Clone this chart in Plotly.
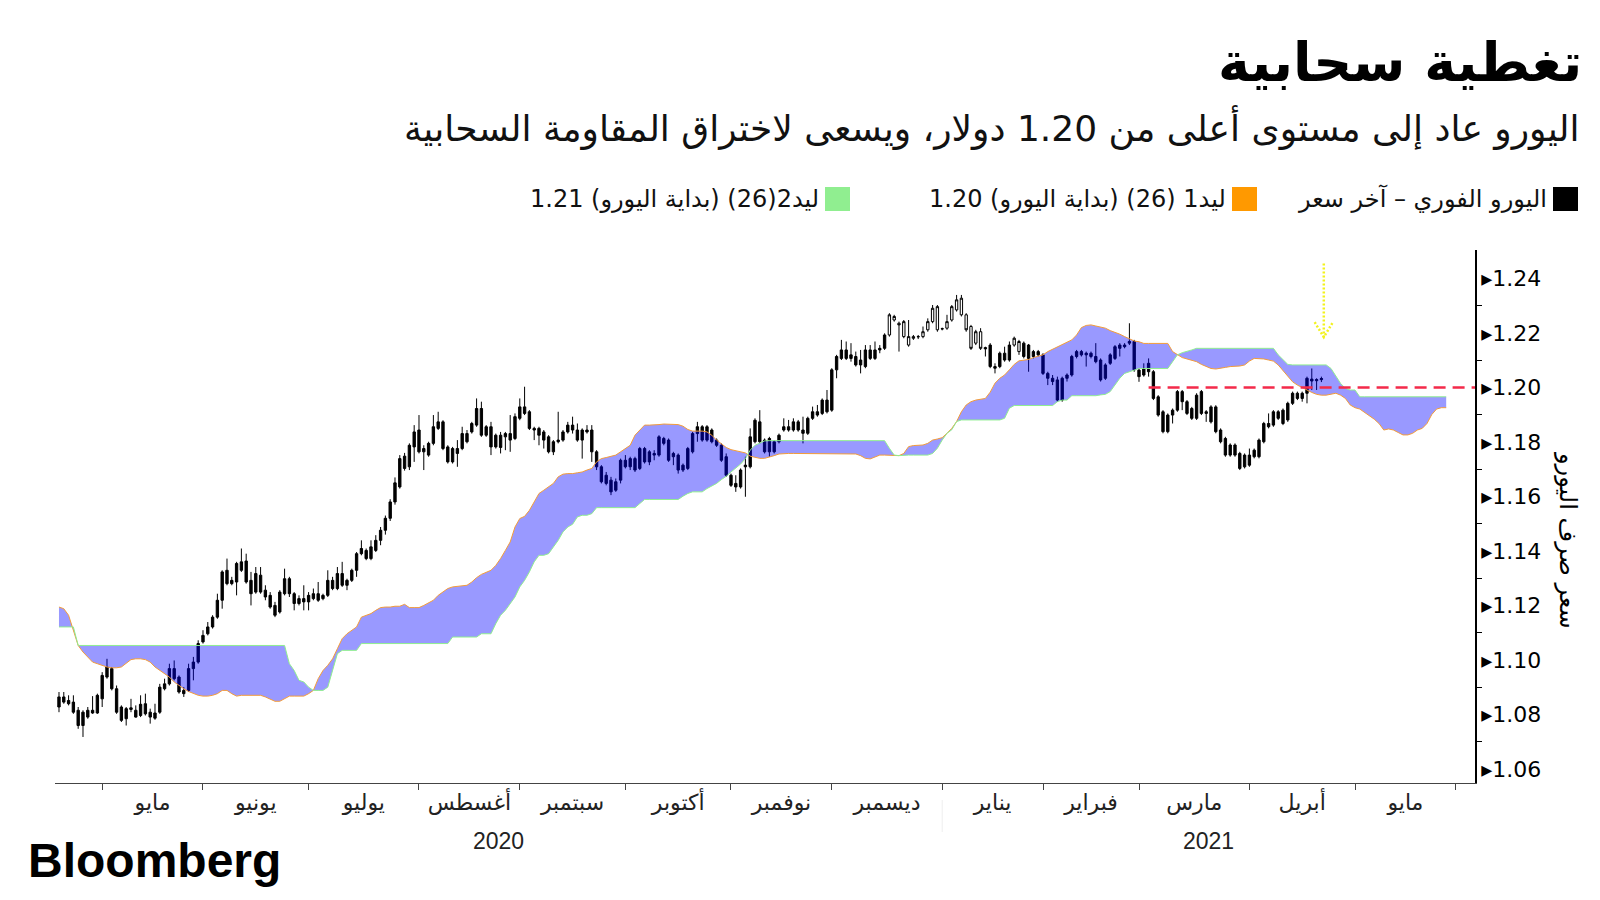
import math
import pandas as pd
import plotly.graph_objects as go

# EUR/USD daily candles, first candle on 20 Apr 2020 (one value per weekday)
OPEN = [
    1.0864, 1.0845, 1.0851, 1.0845, 1.0815, 1.0759, 1.0790, 1.0805, 1.0805, 1.0857,
    1.0937, 1.0968, 1.0894, 1.0827, 1.0784, 1.0818, 1.0815, 1.0796, 1.0839, 1.0808,
    1.0786, 1.0808, 1.0894, 1.0912, 1.0968, 1.0937, 1.0888, 1.0888, 1.0968, 1.0992,
    1.1066, 1.1096, 1.1121, 1.1157, 1.1219, 1.1329, 1.1280, 1.1286, 1.1329, 1.1363,
    1.1292, 1.1249, 1.1311, 1.1256, 1.1237, 1.1200, 1.1176, 1.1243, 1.1298, 1.1243,
    1.1207, 1.1225, 1.1213, 1.1225, 1.1243, 1.1225, 1.1237, 1.1292, 1.1262, 1.1317,
    1.1274, 1.1292, 1.1329, 1.1390, 1.1402, 1.1372, 1.1402, 1.1439, 1.1476, 1.1520,
    1.1580, 1.1635, 1.1703, 1.1709, 1.1782, 1.1844, 1.1764, 1.1752, 1.1795, 1.1850,
    1.1874, 1.1782, 1.1727, 1.1776, 1.1776, 1.1831, 1.1837, 1.1862, 1.1923, 1.1825,
    1.1856, 1.1782, 1.1825, 1.1819, 1.1807, 1.1813, 1.1887, 1.1929, 1.1911, 1.1850,
    1.1850, 1.1837, 1.1819, 1.1764, 1.1801, 1.1807, 1.1837, 1.1862, 1.1844, 1.1807,
    1.1844, 1.1844, 1.1764, 1.1709, 1.1678, 1.1660, 1.1623, 1.1660, 1.1733, 1.1709,
    1.1739, 1.1703, 1.1776, 1.1727, 1.1752, 1.1752, 1.1813, 1.1807, 1.1746, 1.1752,
    1.1697, 1.1703, 1.1764, 1.1831, 1.1856, 1.1807, 1.1844, 1.1807, 1.1788, 1.1746,
    1.1678, 1.1648, 1.1635, 1.1709, 1.1709, 1.1801, 1.1874, 1.1807, 1.1764, 1.1801,
    1.1801, 1.1844, 1.1856, 1.1844, 1.1874, 1.1844, 1.1832, 1.1887, 1.1911, 1.1905,
    1.1954, 1.1917, 1.2065, 1.2107, 1.2138, 1.2107, 1.2114, 1.2083, 1.2077, 1.2138,
    1.2107, 1.2138, 1.2144, 1.2193, 1.2248, 1.2236, 1.2187, 1.2156, 1.2187, 1.2186,
    1.2187, 1.2212, 1.2242, 1.2212, 1.2215, 1.2218, 1.2248, 1.2285, 1.2267, 1.2267,
    1.2224, 1.2163, 1.2205, 1.2147, 1.2156, 1.2077, 1.2077, 1.2126, 1.2101, 1.2156,
    1.2132, 1.2163, 1.2156, 1.2114, 1.2132, 1.2120, 1.2052, 1.2034, 1.2028, 1.1954,
    1.2034, 1.2046, 1.2114, 1.2132, 1.2120, 1.2126, 1.2114, 1.2101, 1.2034, 1.2089,
    1.2107, 1.2144, 1.2150, 1.2163, 1.2169, 1.2064, 1.2046, 1.2058, 1.2058, 1.1966,
    1.1911, 1.1838, 1.1899, 1.1917, 1.1985, 1.1948, 1.1923, 1.1887, 1.1985, 1.1905,
    1.1929, 1.1929, 1.1844, 1.1813, 1.1752, 1.1789, 1.1758, 1.1709, 1.1752, 1.1746,
    1.1746, 1.1801, 1.1868, 1.1862, 1.1911, 1.1868, 1.1881, 1.1942, 1.1979, 1.1960,
    1.1979, 1.2031, 1.2025, 1.2029,
]
HIGH = [
    1.0882, 1.0882, 1.0870, 1.0870, 1.0827, 1.0815, 1.0827, 1.0867, 1.0876, 1.0955,
    1.1004, 1.0974, 1.0906, 1.0833, 1.0827, 1.0857, 1.0833, 1.0870, 1.0876, 1.0821,
    1.0839, 1.0912, 1.0931, 1.0986, 1.0998, 1.0943, 1.0900, 1.0986, 1.1011, 1.1072,
    1.1109, 1.1139, 1.1164, 1.1243, 1.1329, 1.1372, 1.1305, 1.1360, 1.1409, 1.1390,
    1.1323, 1.1341, 1.1341, 1.1274, 1.1249, 1.1213, 1.1256, 1.1335, 1.1305, 1.1249,
    1.1237, 1.1274, 1.1249, 1.1262, 1.1286, 1.1243, 1.1329, 1.1305, 1.1341, 1.1360,
    1.1298, 1.1335, 1.1396, 1.1439, 1.1409, 1.1439, 1.1458, 1.1488, 1.1530, 1.1590,
    1.1670, 1.1752, 1.1760, 1.1795, 1.1862, 1.1899, 1.1788, 1.1801, 1.1899, 1.1911,
    1.1880, 1.1788, 1.1782, 1.1807, 1.1856, 1.1844, 1.1874, 1.1960, 1.1948, 1.1862,
    1.1874, 1.1831, 1.1837, 1.1837, 1.1899, 1.1905, 1.1960, 1.2003, 1.1917, 1.1856,
    1.1856, 1.1844, 1.1825, 1.1807, 1.1911, 1.1844, 1.1874, 1.1893, 1.1868, 1.1850,
    1.1862, 1.1862, 1.1770, 1.1715, 1.1690, 1.1672, 1.1666, 1.1739, 1.1752, 1.1746,
    1.1746, 1.1782, 1.1782, 1.1770, 1.1770, 1.1825, 1.1819, 1.1813, 1.1764, 1.1758,
    1.1721, 1.1782, 1.1837, 1.1874, 1.1862, 1.1862, 1.1850, 1.1813, 1.1795, 1.1758,
    1.1684, 1.1678, 1.1703, 1.1746, 1.1850, 1.1887, 1.1917, 1.1813, 1.1819, 1.1807,
    1.1831, 1.1887, 1.1881, 1.1887, 1.1881, 1.1893, 1.1893, 1.1930, 1.1936, 1.1960,
    1.1991, 1.2071, 1.2120, 1.2175, 1.2169, 1.2163, 1.2132, 1.2138, 1.2156, 1.2156,
    1.2169, 1.2156, 1.2199, 1.2273, 1.2267, 1.2242, 1.2248, 1.2248, 1.2193, 1.2193,
    1.2224, 1.2254, 1.2303, 1.2303, 1.2220, 1.2267, 1.2303, 1.2340, 1.2340, 1.2273,
    1.2230, 1.2212, 1.2218, 1.2150, 1.2163, 1.2089, 1.2132, 1.2150, 1.2169, 1.2187,
    1.2175, 1.2169, 1.2160, 1.2138, 1.2138, 1.2126, 1.2058, 1.2046, 1.2040, 1.2040,
    1.2052, 1.2120, 1.2138, 1.2138, 1.2132, 1.2132, 1.2163, 1.2107, 1.2089, 1.2126,
    1.2156, 1.2163, 1.2163, 1.2236, 1.2175, 1.2070, 1.2089, 1.2107, 1.2064, 1.1972,
    1.1917, 1.1905, 1.1923, 1.1991, 1.1991, 1.1954, 1.1929, 1.1979, 1.1991, 1.1917,
    1.1935, 1.1935, 1.1850, 1.1819, 1.1795, 1.1795, 1.1764, 1.1758, 1.1776, 1.1776,
    1.1813, 1.1874, 1.1905, 1.1917, 1.1917, 1.1923, 1.1948, 1.1985, 1.1985, 1.1985,
    1.2040, 1.2070, 1.2034, 1.2040,
]
LOW = [
    1.0808, 1.0839, 1.0833, 1.0802, 1.0747, 1.0717, 1.0784, 1.0802, 1.0802, 1.0827,
    1.0931, 1.0888, 1.0802, 1.0772, 1.0759, 1.0808, 1.0788, 1.0790, 1.0796, 1.0766,
    1.0780, 1.0802, 1.0888, 1.0906, 1.0925, 1.0876, 1.0864, 1.0882, 1.0925, 1.0986,
    1.1060, 1.1090, 1.1115, 1.1151, 1.1188, 1.1274, 1.1274, 1.1237, 1.1323, 1.1280,
    1.1200, 1.1243, 1.1243, 1.1219, 1.1188, 1.1157, 1.1170, 1.1237, 1.1231, 1.1182,
    1.1200, 1.1182, 1.1182, 1.1219, 1.1213, 1.1219, 1.1231, 1.1256, 1.1256, 1.1268,
    1.1256, 1.1286, 1.1305, 1.1384, 1.1366, 1.1366, 1.1396, 1.1421, 1.1460, 1.1510,
    1.1570, 1.1629, 1.1695, 1.1697, 1.1727, 1.1758, 1.1697, 1.1746, 1.1788, 1.1844,
    1.1770, 1.1721, 1.1721, 1.1709, 1.1770, 1.1795, 1.1831, 1.1856, 1.1819, 1.1819,
    1.1752, 1.1776, 1.1758, 1.1770, 1.1764, 1.1807, 1.1880, 1.1899, 1.1844, 1.1807,
    1.1788, 1.1776, 1.1758, 1.1752, 1.1795, 1.1801, 1.1831, 1.1831, 1.1801, 1.1739,
    1.1831, 1.1727, 1.1697, 1.1648, 1.1641, 1.1605, 1.1617, 1.1648, 1.1703, 1.1697,
    1.1690, 1.1697, 1.1721, 1.1715, 1.1733, 1.1746, 1.1788, 1.1727, 1.1715, 1.1684,
    1.1690, 1.1697, 1.1758, 1.1801, 1.1801, 1.1801, 1.1795, 1.1782, 1.1727, 1.1672,
    1.1635, 1.1617, 1.1629, 1.1599, 1.1703, 1.1795, 1.1795, 1.1758, 1.1746, 1.1758,
    1.1795, 1.1838, 1.1838, 1.1838, 1.1838, 1.1795, 1.1826, 1.1881, 1.1893, 1.1899,
    1.1905, 1.1911, 1.2034, 1.2101, 1.2101, 1.2095, 1.2077, 1.2052, 1.2071, 1.2101,
    1.2101, 1.2126, 1.2138, 1.2187, 1.2242, 1.2132, 1.2181, 1.2150, 1.2175, 1.2178,
    1.2181, 1.2205, 1.2236, 1.2205, 1.2210, 1.2212, 1.2242, 1.2279, 1.2261, 1.2205,
    1.2138, 1.2156, 1.2138, 1.2114, 1.2071, 1.2052, 1.2071, 1.2095, 1.2095, 1.2150,
    1.2120, 1.2107, 1.2058, 1.2107, 1.2114, 1.2046, 1.2009, 1.2009, 1.1948, 1.1948,
    1.2022, 1.2040, 1.2107, 1.2114, 1.2077, 1.2107, 1.2089, 1.2022, 1.2028, 1.2083,
    1.2101, 1.2114, 1.2144, 1.2156, 1.2058, 1.2021, 1.2040, 1.2040, 1.1954, 1.1893,
    1.1832, 1.1832, 1.1868, 1.1911, 1.1917, 1.1899, 1.1881, 1.1881, 1.1899, 1.1874,
    1.1868, 1.1832, 1.1795, 1.1746, 1.1746, 1.1746, 1.1697, 1.1703, 1.1709, 1.1740,
    1.1740, 1.1795, 1.1850, 1.1856, 1.1881, 1.1862, 1.1874, 1.1936, 1.1954, 1.1948,
    1.1942, 1.1991, 1.1991, 1.2020,
]
CLOSE = [
    1.0827, 1.0864, 1.0839, 1.0808, 1.0759, 1.0808, 1.0815, 1.0815, 1.0870, 1.0943,
    1.0974, 1.0894, 1.0808, 1.0778, 1.0821, 1.0824, 1.0790, 1.0837, 1.0802, 1.0790,
    1.0805, 1.0900, 1.0912, 1.0968, 1.0931, 1.0882, 1.0876, 1.0968, 1.0992, 1.1060,
    1.1090, 1.1121, 1.1157, 1.1219, 1.1323, 1.1280, 1.1292, 1.1354, 1.1360, 1.1286,
    1.1243, 1.1317, 1.1249, 1.1231, 1.1194, 1.1164, 1.1249, 1.1298, 1.1243, 1.1207,
    1.1225, 1.1213, 1.1237, 1.1243, 1.1219, 1.1237, 1.1292, 1.1262, 1.1317, 1.1274,
    1.1292, 1.1329, 1.1390, 1.1409, 1.1372, 1.1415, 1.1439, 1.1476, 1.1520, 1.1580,
    1.1650, 1.1739, 1.1748, 1.1788, 1.1837, 1.1764, 1.1776, 1.1795, 1.1856, 1.1874,
    1.1776, 1.1727, 1.1776, 1.1758, 1.1831, 1.1801, 1.1868, 1.1923, 1.1825, 1.1856,
    1.1782, 1.1825, 1.1780, 1.1831, 1.1831, 1.1893, 1.1929, 1.1905, 1.1850, 1.1844,
    1.1825, 1.1807, 1.1764, 1.1801, 1.1807, 1.1837, 1.1862, 1.1844, 1.1807, 1.1844,
    1.1837, 1.1764, 1.1709, 1.1654, 1.1648, 1.1617, 1.1654, 1.1733, 1.1709, 1.1739,
    1.1697, 1.1776, 1.1727, 1.1764, 1.1758, 1.1819, 1.1795, 1.1733, 1.1758, 1.1697,
    1.1715, 1.1776, 1.1831, 1.1856, 1.1807, 1.1856, 1.1801, 1.1788, 1.1733, 1.1678,
    1.1641, 1.1635, 1.1697, 1.1715, 1.1819, 1.1880, 1.1801, 1.1764, 1.1813, 1.1764,
    1.1825, 1.1856, 1.1844, 1.1874, 1.1844, 1.1832, 1.1887, 1.1911, 1.1899, 1.1954,
    1.1911, 1.2065, 1.2114, 1.2138, 1.2107, 1.2120, 1.2083, 1.2101, 1.2138, 1.2107,
    1.2138, 1.2144, 1.2193, 1.2267, 1.2261, 1.2230, 1.2242, 1.2187, 1.2181, 1.2187,
    1.2205, 1.2242, 1.2291, 1.2297, 1.2216, 1.2242, 1.2297, 1.2322, 1.2328, 1.2212,
    1.2144, 1.2205, 1.2144, 1.2142, 1.2077, 1.2071, 1.2126, 1.2101, 1.2156, 1.2181,
    1.2169, 1.2114, 1.2107, 1.2132, 1.2120, 1.2052, 1.2034, 1.2022, 1.1954, 1.2034,
    1.2046, 1.2114, 1.2132, 1.2120, 1.2126, 1.2114, 1.2095, 1.2028, 1.2083, 1.2120,
    1.2150, 1.2156, 1.2156, 1.2169, 1.2065, 1.2040, 1.2070, 1.2089, 1.1960, 1.1899,
    1.1838, 1.1899, 1.1917, 1.1985, 1.1948, 1.1905, 1.1887, 1.1972, 1.1905, 1.1911,
    1.1874, 1.1838, 1.1801, 1.1752, 1.1789, 1.1752, 1.1703, 1.1752, 1.1715, 1.1770,
    1.1807, 1.1868, 1.1856, 1.1911, 1.1887, 1.1917, 1.1942, 1.1979, 1.1960, 1.1979,
    1.2034, 1.2024, 1.2029, 1.2033,
]
# candles drawn hollow (late Dec 2020 / early Jan 2021)
HOLLOW = [173, 174, 175, 176, 177, 178, 179, 180, 181, 182, 183, 184, 185, 186,
          187, 188, 189, 190, 191, 192, 193, 199, 200]

# Ichimoku leading spans (shifted 26 days ahead)
LEAD1 = [
    1.1194, 1.1188, 1.1164, 1.1109, 1.1053, 1.1029, 1.1011, 1.0992, 1.0986, 1.0980,
    1.0974, 1.0971, 1.0971, 1.0974, 1.0986, 1.1001, 1.1004, 1.1004, 1.1001, 1.0992,
    1.0974, 1.0961, 1.0949, 1.0937, 1.0919, 1.0906, 1.0894, 1.0884, 1.0876, 1.0870,
    1.0867, 1.0867, 1.0870, 1.0876, 1.0888, 1.0888, 1.0876, 1.0867, 1.0870, 1.0870,
    1.0870, 1.0870, 1.0870, 1.0864, 1.0855, 1.0848, 1.0848, 1.0857, 1.0867, 1.0867,
    1.0867, 1.0867, 1.0876, 1.0888, 1.0931, 1.0961, 1.0980, 1.1004, 1.1041, 1.1078,
    1.1096, 1.1109, 1.1121, 1.1157, 1.1164, 1.1170, 1.1182, 1.1192, 1.1194, 1.1194,
    1.1197, 1.1197, 1.1204, 1.1192, 1.1192, 1.1192, 1.1200, 1.1209, 1.1219, 1.1237,
    1.1249, 1.1262, 1.1268, 1.1270, 1.1270, 1.1274, 1.1286, 1.1302, 1.1314, 1.1323,
    1.1329, 1.1347, 1.1372, 1.1402, 1.1433, 1.1488, 1.1519, 1.1527, 1.1549, 1.1580,
    1.1611, 1.1623, 1.1635, 1.1648, 1.1672, 1.1682, 1.1684, 1.1684, 1.1687, 1.1690,
    1.1697, 1.1703, 1.1727, 1.1739, 1.1743, 1.1748, 1.1752, 1.1764, 1.1776, 1.1788,
    1.1825, 1.1844, 1.1862, 1.1862, 1.1862, 1.1864, 1.1866, 1.1866, 1.1866, 1.1864,
    1.1858, 1.1846, 1.1840, 1.1840, 1.1840, 1.1837, 1.1825, 1.1807, 1.1792, 1.1780,
    1.1772, 1.1768, 1.1764, 1.1760, 1.1748, 1.1743, 1.1740, 1.1740, 1.1744, 1.1750,
    1.1756, 1.1758, 1.1758, 1.1758, 1.1758, 1.1758, 1.1758, 1.1758, 1.1758, 1.1758,
    1.1758, 1.1758, 1.1758, 1.1756, 1.1756, 1.1756, 1.1756, 1.1750, 1.1740, 1.1738,
    1.1746, 1.1752, 1.1752, 1.1752, 1.1752, 1.1750, 1.1758, 1.1783, 1.1787, 1.1789,
    1.1789, 1.1795, 1.1807, 1.1811, 1.1816, 1.1832, 1.1850, 1.1875, 1.1911, 1.1936,
    1.1948, 1.1954, 1.1958, 1.1960, 1.1983, 1.2016, 1.2034, 1.2046, 1.2065, 1.2085,
    1.2098, 1.2100, 1.2103, 1.2110, 1.2115, 1.2120, 1.2132, 1.2141, 1.2150, 1.2156,
    1.2166, 1.2175, 1.2193, 1.2220, 1.2228, 1.2230, 1.2226, 1.2223, 1.2218, 1.2209,
    1.2203, 1.2196, 1.2187, 1.2179, 1.2171, 1.2168, 1.2162, 1.2162, 1.2162, 1.2162,
    1.2162, 1.2162, 1.2132, 1.2120, 1.2110, 1.2105, 1.2101, 1.2095, 1.2085, 1.2077,
    1.2070, 1.2068, 1.2070, 1.2074, 1.2077, 1.2077, 1.2079, 1.2083, 1.2097, 1.2107,
    1.2107, 1.2105, 1.2101, 1.2097, 1.2083, 1.2061, 1.2040, 1.2021, 1.2009, 1.1999,
    1.1991, 1.1982, 1.1975, 1.1972, 1.1972, 1.1975, 1.1979, 1.1972, 1.1960, 1.1936,
    1.1926, 1.1921, 1.1909, 1.1899, 1.1884, 1.1868, 1.1844, 1.1848, 1.1844, 1.1835,
    1.1826, 1.1826, 1.1832, 1.1844, 1.1850, 1.1868, 1.1901, 1.1921, 1.1926, 1.1926,
]
LEAD2 = [
    1.1121, 1.1121, 1.1121, 1.1121, 1.1053, 1.1053, 1.1053, 1.1053, 1.1053, 1.1053,
    1.1053, 1.1053, 1.1053, 1.1053, 1.1053, 1.1053, 1.1053, 1.1053, 1.1053, 1.1053,
    1.1053, 1.1053, 1.1053, 1.1053, 1.1053, 1.1053, 1.1053, 1.1053, 1.1053, 1.1053,
    1.1053, 1.1053, 1.1053, 1.1053, 1.1053, 1.1053, 1.1053, 1.1053, 1.1053, 1.1053,
    1.1053, 1.1053, 1.1053, 1.1053, 1.1053, 1.1053, 1.1053, 1.1053, 1.0986, 1.0961,
    1.0925, 1.0919, 1.0900, 1.0888, 1.0888, 1.0888, 1.0900, 1.0961, 1.1023, 1.1035,
    1.1035, 1.1035, 1.1035, 1.1060, 1.1060, 1.1060, 1.1060, 1.1060, 1.1060, 1.1060,
    1.1060, 1.1060, 1.1060, 1.1060, 1.1060, 1.1060, 1.1060, 1.1060, 1.1060, 1.1060,
    1.1060, 1.1060, 1.1084, 1.1084, 1.1084, 1.1084, 1.1084, 1.1084, 1.1096, 1.1096,
    1.1096, 1.1133, 1.1164, 1.1182, 1.1207, 1.1231, 1.1268, 1.1292, 1.1323, 1.1360,
    1.1384, 1.1384, 1.1390, 1.1415, 1.1439, 1.1470, 1.1488, 1.1498, 1.1525, 1.1531,
    1.1531, 1.1537, 1.1559, 1.1559, 1.1559, 1.1559, 1.1559, 1.1559, 1.1559, 1.1559,
    1.1559, 1.1574, 1.1589, 1.1589, 1.1589, 1.1589, 1.1589, 1.1589, 1.1589, 1.1589,
    1.1601, 1.1611, 1.1617, 1.1617, 1.1617, 1.1629, 1.1638, 1.1648, 1.1662, 1.1674,
    1.1690, 1.1703, 1.1719, 1.1739, 1.1770, 1.1788, 1.1797, 1.1804, 1.1805, 1.1805,
    1.1805, 1.1805, 1.1805, 1.1805, 1.1805, 1.1805, 1.1805, 1.1805, 1.1805, 1.1805,
    1.1805, 1.1805, 1.1805, 1.1805, 1.1805, 1.1805, 1.1805, 1.1805, 1.1805, 1.1805,
    1.1805, 1.1805, 1.1805, 1.1777, 1.1752, 1.1750, 1.1752, 1.1752, 1.1752, 1.1752,
    1.1752, 1.1752, 1.1758, 1.1777, 1.1807, 1.1832, 1.1845, 1.1875, 1.1881, 1.1881,
    1.1881, 1.1881, 1.1881, 1.1881, 1.1881, 1.1881, 1.1881, 1.1887, 1.1924, 1.1934,
    1.1934, 1.1934, 1.1934, 1.1934, 1.1934, 1.1934, 1.1934, 1.1934, 1.1948, 1.1954,
    1.1954, 1.1970, 1.1970, 1.1970, 1.1970, 1.1970, 1.1970, 1.1973, 1.1975, 1.1985,
    1.2009, 1.2034, 1.2052, 1.2058, 1.2064, 1.2070, 1.2070, 1.2070, 1.2070, 1.2070,
    1.2070, 1.2070, 1.2095, 1.2120, 1.2128, 1.2132, 1.2138, 1.2144, 1.2144, 1.2144,
    1.2144, 1.2144, 1.2144, 1.2144, 1.2144, 1.2144, 1.2144, 1.2144, 1.2144, 1.2144,
    1.2144, 1.2144, 1.2144, 1.2144, 1.2120, 1.2101, 1.2085, 1.2083, 1.2083, 1.2083,
    1.2083, 1.2083, 1.2083, 1.2083, 1.2083, 1.2070, 1.2040, 1.2015, 1.1997, 1.1991,
    1.1991, 1.1966, 1.1966, 1.1966, 1.1966, 1.1966, 1.1966, 1.1966, 1.1966, 1.1966,
    1.1966, 1.1966, 1.1966, 1.1966, 1.1966, 1.1966, 1.1966, 1.1966, 1.1966, 1.1966,
]

LEVEL = 1.20          # resistance line
LEVEL_FROM = 227      # candle index where the dashed line starts
ARROW_AT = 263.5      # candle index of the yellow arrow
ARROW_TOP, ARROW_TIP = 1.2455, 1.2185

MONTHS = ["مايو", "يونيو", "يوليو", "أغسطس", "سبتمبر", "أكتوبر", "نوفمبر",
          "ديسمبر", "يناير", "فبراير", "مارس", "أبريل", "مايو"]
YEARS = ["2020", "2021"]
Y_TICKS = [1.06, 1.08, 1.10, 1.12, 1.14, 1.16, 1.18, 1.20, 1.22, 1.24]

TITLE = "تغطية سحابية"
SUBTITLE = "اليورو عاد إلى مستوى أعلى من 1.20 دولار، ويسعى لاختراق المقاومة السحابية"
LEGEND = [("اليورو الفوري – آخر سعر", "#000000"),
          ("ليد1 (26) (بداية اليورو) 1.20", "#FF9900"),
          ("ليد2(26) (بداية اليورو) 1.21", "#90EE90")]
Y_TITLE = "سعر صرف اليورو"

FONT = "DejaVu Sans"
W, H = 1600, 900
L, R, T, B = 55, 125, 250, 117
PW, PH = W - L - R, H - T - B


def fx(p):
    return (p - L) / PW


def fy(p):
    return (H - B - p) / PH


# weekday calendar; days[1] is the first candle
days = pd.bdate_range("2020-04-17", periods=300)


def at(f):
    k = math.floor(f)
    return days[k + 1] + pd.Timedelta(days=f - k)


n = len(CLOSE)
solid = [i for i in range(n) if i not in HOLLOW]


def pick(arr, idx):
    return [arr[i] for i in idx]


fig = go.Figure()

for idx, fill in ((solid, "black"), (HOLLOW, "white")):
    style = dict(line=dict(color="black", width=1), fillcolor=fill)
    fig.add_trace(go.Candlestick(
        x=[days[i + 1] for i in idx],
        open=pick(OPEN, idx), high=pick(HIGH, idx),
        low=pick(LOW, idx), close=pick(CLOSE, idx),
        increasing=style, decreasing=style, whiskerwidth=0,
        showlegend=False, hoverinfo="skip"))

cloud_x = [days[i + 1] for i in range(len(LEAD1))]
fig.add_trace(go.Scatter(x=cloud_x, y=LEAD1, mode="lines",
                         line=dict(color="#F39C3A", width=1),
                         showlegend=False, hoverinfo="skip"))
fig.add_trace(go.Scatter(x=cloud_x, y=LEAD2, mode="lines",
                         line=dict(color="#90EE90", width=1),
                         fill="tonexty", fillcolor="rgba(0,0,255,0.4)",
                         showlegend=False, hoverinfo="skip"))

x_end = 295
fig.add_trace(go.Scatter(x=[at(LEVEL_FROM), at(x_end)], y=[LEVEL, LEVEL],
                         mode="lines",
                         line=dict(color="#F42A4A", width=2.5, dash="12px,7px"),
                         showlegend=False, hoverinfo="skip"))

# yellow dotted arrow
yellow = dict(color="#F2F21C", width=2.5, dash="2px,2px")
fig.add_trace(go.Scatter(x=[at(ARROW_AT), at(ARROW_AT)], y=[ARROW_TOP, ARROW_TIP],
                         mode="lines", line=yellow, showlegend=False, hoverinfo="skip"))
fig.add_trace(go.Scatter(x=[at(ARROW_AT - 1.9), at(ARROW_AT), at(ARROW_AT + 1.9)],
                         y=[ARROW_TIP + 0.0055, ARROW_TIP, ARROW_TIP + 0.0055],
                         mode="lines", line=yellow, showlegend=False, hoverinfo="skip"))

# month ticks (first weekday) and labels (middle of month)
starts = [int(days.searchsorted(m)) - 1
          for m in pd.date_range("2020-05-01", "2021-06-01", freq="MS")]
mids = [at((a + b) / 2) for a, b in zip(starts[:-1], starts[1:])]
minor_y = [round(v + 0.01, 2) for v in Y_TICKS[:-1]]

annotations = [
    dict(text="<b>" + TITLE + "</b>", x=fx(1584), y=fy(62), xanchor="right",
         yanchor="middle", font=dict(size=54, family=FONT, color="black")),
    dict(text=SUBTITLE, x=fx(1582), y=fy(128), xanchor="right", yanchor="middle",
         font=dict(size=36, family=FONT, color="#111")),
    dict(text="<b>Bloomberg</b>", x=fx(26), y=fy(860), xanchor="left",
         yanchor="middle", font=dict(size=48, family="Liberation Sans", color="black")),
    dict(text=Y_TITLE, x=fx(1568), y=fy(540), textangle=90, xanchor="center",
         yanchor="middle", font=dict(size=24, family=FONT, color="black")),
]
shapes = []
sq_right = [1578, 1257, 850]
for (label, color), right in zip(LEGEND, sq_right):
    shapes.append(dict(type="rect", xref="paper", yref="paper",
                       x0=fx(right - 25), x1=fx(right), y0=fy(211), y1=fy(187),
                       fillcolor=color, line=dict(width=0)))
    annotations.append(dict(text=label, x=fx(right - 29), y=fy(199), xanchor="right",
                            yanchor="middle",
                            font=dict(size=24, family=FONT, color="#111")))

year_pos = [(-0.83 + starts[8]) / 2, (starts[8] + x_end) / 2]
for label, f in zip(YEARS, year_pos):
    annotations.append(dict(text=label, x=at(f), xref="x", y=fy(841), yref="paper",
                            xanchor="center", yanchor="middle",
                            font=dict(size=23, family="Liberation Sans", color="#222")))
shapes.append(dict(type="line", xref="x", yref="paper", x0=days[starts[8] + 1],
                   x1=days[starts[8] + 1], y0=fy(800), y1=fy(832),
                   line=dict(color="#eeeeee", width=1)))
for a in annotations:
    a.setdefault("xref", "paper")
    a.setdefault("yref", "paper")
    a["showarrow"] = False

fig.update_layout(
    width=W, height=H, margin=dict(l=L, r=R, t=T, b=B),
    paper_bgcolor="white", plot_bgcolor="white", hovermode=False,
    annotations=annotations, shapes=shapes,
    xaxis=dict(type="date", range=[at(-0.83), at(x_end)],
               rangebreaks=[dict(bounds=["sat", "mon"])],
               rangeslider=dict(visible=False),
               tickmode="array", tickvals=mids, ticktext=MONTHS, ticks="",
               showline=True, linecolor="#444", linewidth=1,
               showgrid=False, zeroline=False,
               tickfont=dict(size=22, family=FONT, color="#222"),
               minor=dict(tickmode="array", tickvals=[days[i + 1] for i in starts],
                          ticks="outside", ticklen=6, tickcolor="#444",
                          showgrid=False)),
    yaxis=dict(side="right", range=[1.0548, 1.2505],
               tickmode="array", tickvals=Y_TICKS,
               ticktext=["▸" + f"{v:.2f}" for v in Y_TICKS], ticks="",
               showline=True, linecolor="black", linewidth=1.5,
               showgrid=False, zeroline=False,
               tickfont=dict(size=22, family=FONT, color="black"),
               minor=dict(tickmode="array", tickvals=minor_y, ticks="outside",
                          ticklen=5, tickcolor="black", showgrid=False)),
)

fig.write_html("out.html", config={"displayModeBar": False},
               post_script="document.body.style.margin='0';")
